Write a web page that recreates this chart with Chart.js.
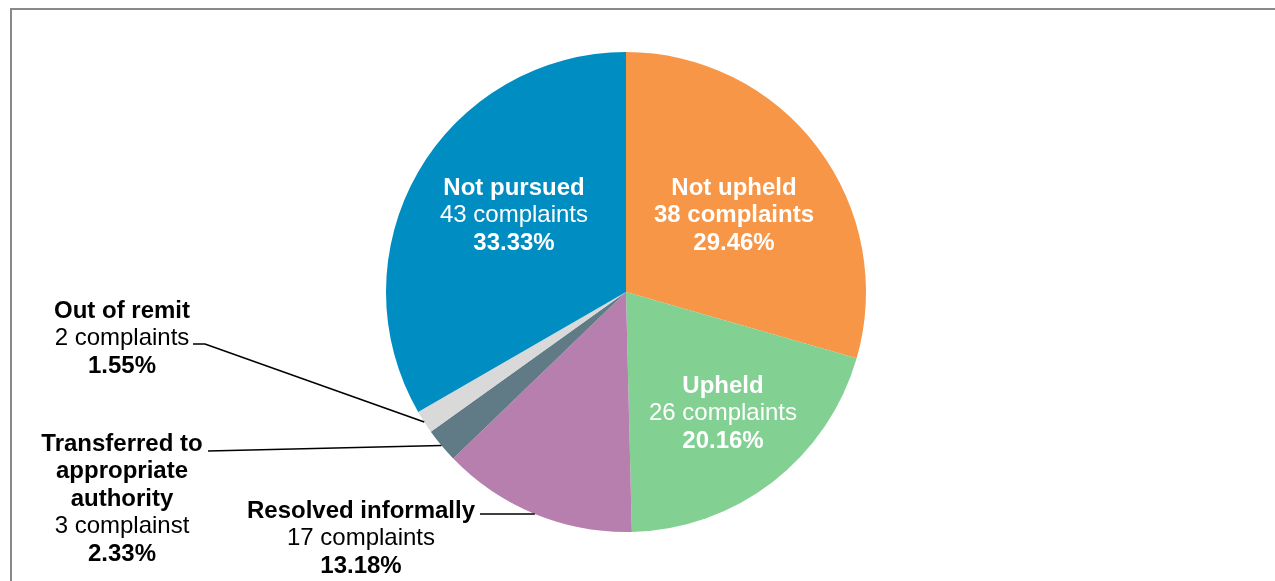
<!DOCTYPE html>
<html>
<head>
<meta charset="utf-8">
<title>Complaint outcomes</title>
<script src="https://cdn.jsdelivr.net/npm/chart.js@4.4.1/dist/chart.umd.min.js"></script>
<style>
  html, body { margin: 0; padding: 0; background: #fff; overflow: hidden; }
  #wrap { position: relative; width: 1275px; height: 581px; }
  #frame {
    position: absolute; left: 10px; top: 8px; right: 0; bottom: -10px;
    border-left: 2px solid #898989; border-top: 2px solid #898989;
  }
  #chart { position: absolute; left: 0; top: 0; }
</style>
</head>
<body>
<div id="wrap">
  <div id="frame"></div>
  <canvas id="chart" width="1275" height="581"></canvas>
</div>
<script>
// data (clockwise from 12 o'clock)
const categories = ['Not upheld', 'Upheld', 'Resolved informally', 'Transferred to appropriate authority', 'Out of remit', 'Not pursued'];
const complaints = [38, 26, 17, 3, 2, 43];
const countLabels = ['38 complaints', '26 complaints', '17 complaints', '3 complainst', '2 complaints', '43 complaints'];
const percentLabels = ['29.46%', '20.16%', '13.18%', '2.33%', '1.55%', '33.33%'];
const sliceColors = ['#F79646', '#83D093', '#B77FAE', '#607A86', '#D9D9D9', '#008DC2'];

// how each label is written: name lines (bold), count (bold or not), percent (bold)
const nameLines = [['Not upheld'], ['Upheld'], ['Resolved informally'], ['Transferred to', 'appropriate', 'authority'], ['Out of remit'], ['Not pursued']];
const countBold = [true, false, false, false, false, false];
const inside = [true, true, false, false, false, true];

// label anchors, offsets from the pie centre (x = text centre, y = first baseline)
const labelOffsets = [[108, -97], [97, 101], [-265, 226], [-504, 159], [-504, 26], [-112, -97]];
// leader line start (next to the text) for outside labels, offsets from the pie centre
const leaderStarts = [null, null, [-146, 222], [-418, 159], [-433, 52], null];
const leaderElbow = [null, null, null, null, [-421, 52], null];

const FONT = '"Liberation Sans", Arial, Helvetica, sans-serif';
const FS = 24;
const LH = 27.4;

const labelPlugin = {
  id: 'sliceLabels',
  afterDatasetsDraw(chart) {
    const ctx = chart.ctx;
    const meta = chart.getDatasetMeta(0);
    meta.data.forEach((arc, i) => {
      const cx = arc.x, cy = arc.y;
      const lx = cx + labelOffsets[i][0];
      const ly = cy + labelOffsets[i][1];
      // leader line to the slice edge
      if (leaderStarts[i]) {
        const mid = (arc.startAngle + arc.endAngle) / 2;
        const ex = cx + Math.cos(mid) * arc.outerRadius;
        const ey = cy + Math.sin(mid) * arc.outerRadius;
        ctx.save();
        ctx.strokeStyle = '#000';
        ctx.lineWidth = 1.7;
        ctx.beginPath();
        ctx.moveTo(cx + leaderStarts[i][0], cy + leaderStarts[i][1]);
        if (leaderElbow[i]) ctx.lineTo(cx + leaderElbow[i][0], cy + leaderElbow[i][1]);
        ctx.lineTo(ex, ey);
        ctx.stroke();
        ctx.restore();
      }
      const lines = [];
      nameLines[i].forEach(t => lines.push({ t, bold: true }));
      lines.push({ t: countLabels[i], bold: countBold[i] });
      lines.push({ t: percentLabels[i], bold: true });
      ctx.save();
      ctx.fillStyle = inside[i] ? '#fff' : '#000';
      ctx.textAlign = 'center';
      ctx.textBaseline = 'alphabetic';
      lines.forEach((ln, k) => {
        ctx.font = (ln.bold ? 'bold ' : '') + FS + 'px ' + FONT;
        ctx.fillText(ln.t, lx, ly + k * LH);
      });
      ctx.restore();
    });
  }
};

new Chart(document.getElementById('chart'), {
  type: 'pie',
  data: {
    labels: categories,
    datasets: [{
      data: complaints,
      backgroundColor: sliceColors,
      borderWidth: 0,
      offset: 0,
      hoverOffset: 0
    }]
  },
  options: {
    responsive: false,
    devicePixelRatio: 1,
    animation: false,
    layout: { padding: { left: 386, right: 409, top: 52, bottom: 49 } },
    plugins: {
      legend: { display: false },
      tooltip: { enabled: false }
    }
  },
  plugins: [labelPlugin]
});
</script>
</body>
</html>
